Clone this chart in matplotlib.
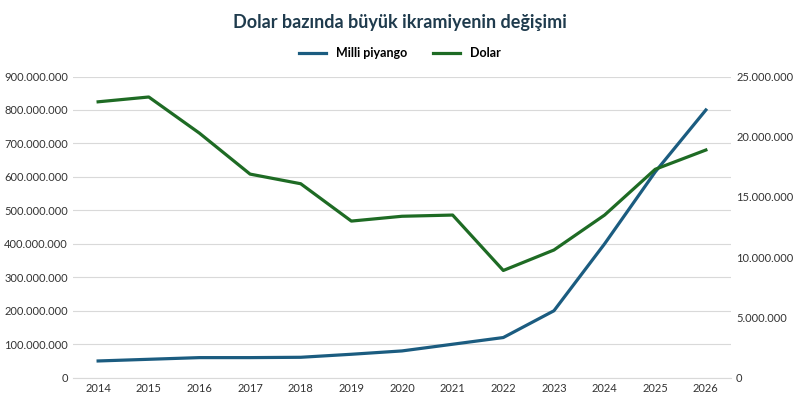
import matplotlib.pyplot as plt
from matplotlib.ticker import FuncFormatter

years = [str(y) for y in range(2014, 2027)]
milli_piyango = [50e6, 55e6, 60e6, 60e6, 61e6, 70e6, 80e6, 100e6, 120e6, 200e6, 400e6, 615e6, 800e6]
dolar = [22.9e6, 23.3e6, 20.3e6, 16.9e6, 16.1e6, 13.0e6, 13.4e6, 13.5e6, 8.9e6, 10.6e6, 13.5e6, 17.3e6, 18.9e6]

plt.rcParams['font.family'] = ['Lato', 'DejaVu Sans']
dots = FuncFormatter(lambda v, p: f"{int(round(v)):,}".replace(",", "."))

fig = plt.figure(figsize=(8, 4.07), dpi=100)
ax = fig.add_axes([0.091, 0.072, 0.823, 0.74])
ax2 = ax.twinx()

x = range(len(years))
l1, = ax.plot(x, milli_piyango, color="#1B5C80", lw=2.3, label="Milli piyango")
l2, = ax2.plot(x, dolar, color="#1E6B24", lw=2.3, label="Dolar")

ax.set_xlim(-0.5, len(years) - 0.5)
ax.set_ylim(0, 900e6)
ax.set_yticks(range(0, 900_000_001, 100_000_000))
ax2.set_ylim(0, 25e6)
ax2.set_yticks(range(0, 25_000_001, 5_000_000))
ax.yaxis.set_major_formatter(dots)
ax2.yaxis.set_major_formatter(dots)
ax.set_xticks(list(x))
ax.set_xticklabels(years)
ax.grid(axis="y", color="#D9D9D9", lw=0.8)
ax.set_axisbelow(True)
for a in (ax, ax2):
    for s in a.spines.values():
        s.set_visible(False)
    a.tick_params(length=0, labelsize=8, colors="#333333")
ax.spines["bottom"].set_visible(True)
ax.spines["bottom"].set_color("#D9D9D9")

fig.suptitle("Dolar bazında büyük ikramiyenin değişimi", y=0.965, fontsize=13,
             fontweight="bold", color="#1F3B4D")
fig.legend(handles=[l1, l2], loc="center", bbox_to_anchor=(0.5, 0.87), ncol=2,
           frameon=False, fontsize=9, handlelength=2.2,
           prop={"weight": "bold", "size": 9})
fig.savefig("out.png")
